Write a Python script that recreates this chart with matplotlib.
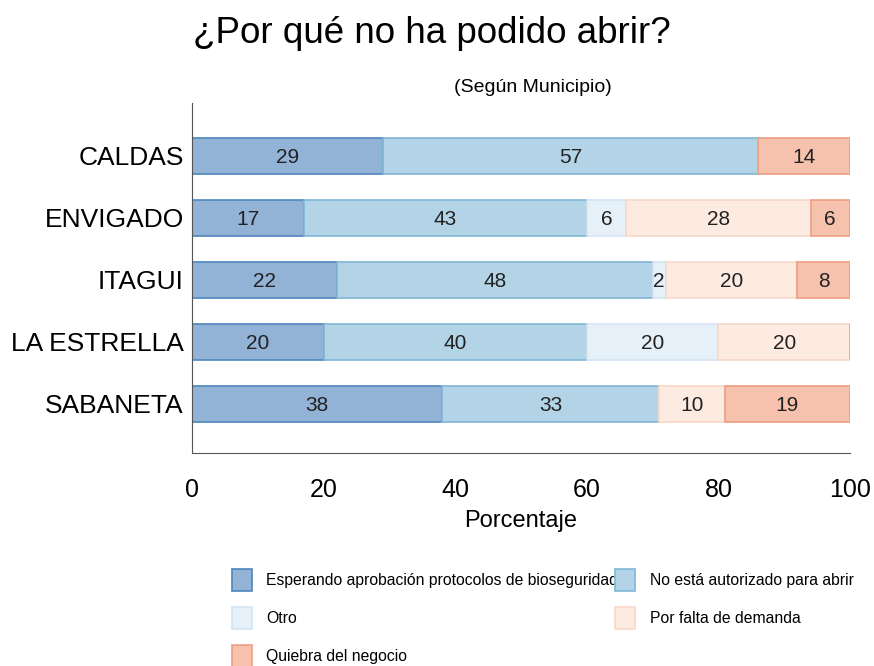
import matplotlib.pyplot as plt
import numpy as np

plt.rcParams['font.family'] = ['Liberation Sans', 'DejaVu Sans']

municipios = ['CALDAS', 'ENVIGADO', 'ITAGUI', 'LA ESTRELLA', 'SABANETA']
series = ['Esperando aprobación protocolos de bioseguridad', 'No está autorizado para abrir',
          'Otro', 'Por falta de demanda', 'Quiebra del negocio']
esperando = [29, 17, 22, 20, 38]
no_autorizado = [57, 43, 48, 40, 33]
otro = [0, 6, 2, 20, 0]
falta_demanda = [0, 28, 20, 20, 10]
quiebra = [14, 6, 8, 0, 19]

fills = ['#92b2d6', '#b3d4e7', '#e6f0f8', '#fdeae1', '#f6c2ae']
edges = ['#4f86bd', '#80b6d6', '#d5e5f2', '#f8d8c8', '#ee9f82']

fig = plt.figure(figsize=(8.74, 6.66), dpi=100)
ax = fig.add_axes([0.22, 0.32, 0.7525, 0.525])

y = np.arange(len(municipios))
left = np.zeros(len(municipios))
bars = []
for vals, name, fc, ec in zip([esperando, no_autorizado, otro, falta_demanda, quiebra], series, fills, edges):
    vals = np.array(vals, dtype=float)
    b = ax.barh(y, vals, left=left, height=0.58, color=fc, edgecolor=ec, linewidth=1.2, label=name)
    bars.append(b)
    for yi, l, v in zip(y, left, vals):
        if v > 0:
            ax.text(l + v / 2, yi, str(int(v)), ha='center', va='center_baseline', fontsize=15, color='#222222')
    left += vals

ax.set_xlim(0, 100)
ax.set_ylim(4.79, -0.85)
ax.set_yticks(y)
ax.set_yticklabels(municipios, fontsize=19)
ax.set_xticks([0, 20, 40, 60, 80, 100])
ax.tick_params(axis='x', labelsize=18, length=0, pad=18)
ax.tick_params(axis='y', length=0, pad=6)
ax.spines['top'].set_visible(False)
ax.spines['right'].set_visible(False)
ax.spines['left'].set_color('#555555')
ax.spines['bottom'].set_color('#555555')
ax.set_xlabel('Porcentaje', fontsize=17, labelpad=6)

fig.text(0.221, 0.95, '¿Por qué no ha podido abrir?', fontsize=26.5, ha='left', va='center')
fig.text(0.61, 0.868, '(Según Municipio)', fontsize=14, ha='center', va='center')

# row-wise legend order for 2 columns
order = [0, 2, 4, 1, 3]
fig.legend([bars[i] for i in order], [series[i] for i in order],
           loc='upper left', bbox_to_anchor=(0.258, 0.155), ncol=2, frameon=False,
           fontsize=11.3, handlelength=1.3, handleheight=1.8, handletextpad=0.9,
           columnspacing=-0.2, labelspacing=1.0, borderaxespad=0)

fig.savefig('out.png', dpi=100)
